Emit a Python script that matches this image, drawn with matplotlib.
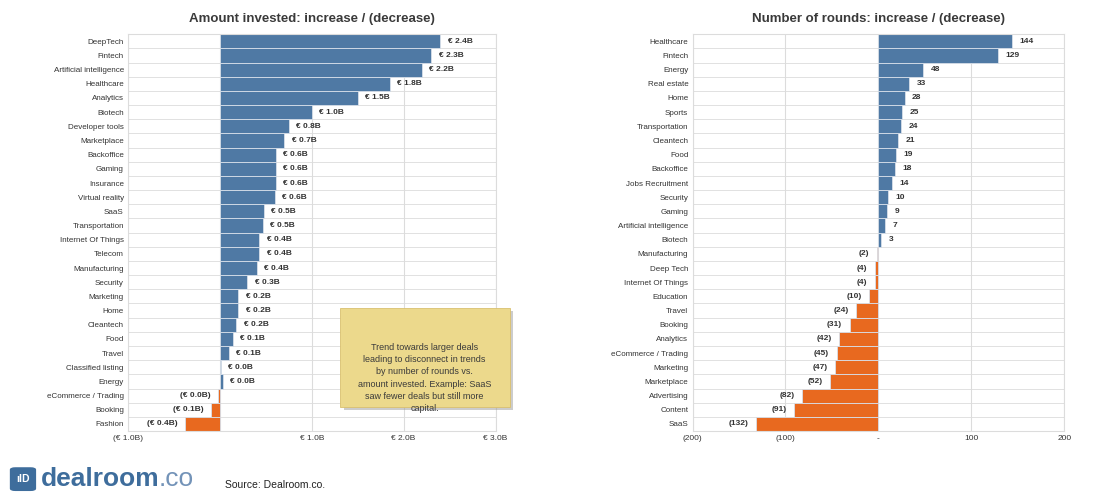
import matplotlib
matplotlib.use("Agg")
import matplotlib.pyplot as plt
from matplotlib.patches import FancyBboxPatch, Rectangle

plt.rcParams['font.family'] = ['Liberation Sans', 'DejaVu Sans']

# Amount invested: change in EUR billions
amount_sectors = ["DeepTech", "Fintech", "Artificial intelligence", "Healthcare", "Analytics",
                  "Biotech", "Developer tools", "Marketplace", "Backoffice", "Gaming",
                  "Insurance", "Virtual reality", "SaaS", "Transportation", "Internet Of Things",
                  "Telecom", "Manufacturing", "Security", "Marketing", "Home", "Cleantech",
                  "Food", "Travel", "Classified listing", "Energy", "eCommerce / Trading",
                  "Booking", "Fashion"]
amount_values = [2.4, 2.3, 2.2, 1.85, 1.5, 1.0, 0.75, 0.7, 0.61, 0.61, 0.61, 0.6,
                 0.48, 0.47, 0.43, 0.43, 0.4, 0.3, 0.2, 0.2, 0.18, 0.14, 0.1,
                 0.01, 0.03, -0.02, -0.1, -0.38]
amount_labels = ["€ 2.4B", "€ 2.3B", "€ 2.2B", "€ 1.8B", "€ 1.5B", "€ 1.0B", "€ 0.8B",
                 "€ 0.7B", "€ 0.6B", "€ 0.6B", "€ 0.6B", "€ 0.6B", "€ 0.5B", "€ 0.5B",
                 "€ 0.4B", "€ 0.4B", "€ 0.4B", "€ 0.3B", "€ 0.2B", "€ 0.2B", "€ 0.2B",
                 "€ 0.1B", "€ 0.1B", "€ 0.0B", "€ 0.0B", "(€ 0.0B)", "(€ 0.1B)", "(€ 0.4B)"]
amount_ticks = [-1, 0, 1, 2, 3]
amount_ticklabels = ["(€ 1.0B)", "", "€ 1.0B", "€ 2.0B", "€ 3.0B"]

# Number of rounds: change in count
rounds_sectors = ["Healthcare", "Fintech", "Energy", "Real estate", "Home", "Sports",
                  "Transportation", "Cleantech", "Food", "Backoffice", "Jobs Recruitment",
                  "Security", "Gaming", "Artificial intelligence", "Biotech", "Manufacturing",
                  "Deep Tech", "Internet Of Things", "Education", "Travel", "Booking",
                  "Analytics", "eCommerce / Trading", "Marketing", "Marketplace",
                  "Advertising", "Content", "SaaS"]
rounds_values = [144, 129, 48, 33, 28, 25, 24, 21, 19, 18, 14, 10, 9, 7, 3,
                 -2, -4, -4, -10, -24, -31, -42, -45, -47, -52, -82, -91, -132]
rounds_ticks = [-200, -100, 0, 100, 200]
rounds_ticklabels = ["(200)", "(100)", "-", "100", "200"]

BLUE = "#4f79a4"
ORANGE = "#e8691f"
GRID = "#dcdcdc"
TXT = "#333333"

fig = plt.figure(figsize=(10.94, 4.96), dpi=100)
ax1 = fig.add_axes([0.117, 0.131, 0.336, 0.800])
ax2 = fig.add_axes([0.633, 0.131, 0.340, 0.800])


def draw_panel(ax, cats, vals, labels, ticks, ticklabels, xlim, pad, title):
    ypos = list(range(len(cats)))
    colors = [BLUE if v >= 0 else ORANGE for v in vals]
    ax.barh(ypos, vals, height=1.0, color=colors, edgecolor="#d8e0ea",
            linewidth=0.6, zorder=2)
    for y, v, lab in zip(ypos, vals, labels):
        if v >= 0:
            ax.text(v + pad, y, lab, ha="left", va="center", fontsize=6,
                    color=TXT, fontweight="bold", zorder=4)
        else:
            ax.text(v - pad, y, lab, ha="right", va="center", fontsize=6,
                    color=TXT, fontweight="bold", zorder=4)
    ax.set_ylim(len(cats) - 0.5, -0.5)
    ax.set_xlim(*xlim)
    ax.set_yticks(ypos)
    ax.set_yticklabels(cats, fontsize=5.8, color=TXT)
    ax.set_xticks(ticks)
    ax.set_xticklabels(ticklabels, fontsize=6, color=TXT)
    # row separators and vertical gridlines
    for b in range(len(cats) + 1):
        ax.axhline(b - 0.5, color=GRID, linewidth=0.6, zorder=1)
    for t in ticks:
        ax.axvline(t, color=GRID, linewidth=0.8, zorder=1)
    ax.tick_params(length=0, pad=3)
    for s in ax.spines.values():
        s.set_color(GRID)
    ax.set_title(title, fontsize=9.5, fontweight="bold", color="#3a3a3a", pad=9)


draw_panel(ax1, amount_sectors, amount_values, amount_labels, amount_ticks,
           amount_ticklabels, (-1, 3), 0.08, "Amount invested: increase / (decrease)")
draw_panel(ax2, rounds_sectors, rounds_values, [str(v) if v >= 0 else f"({-v})" for v in rounds_values],
           rounds_ticks, rounds_ticklabels, (-200, 200), 8,
           "Number of rounds: increase / (decrease)")

# note box
shadow = Rectangle((0.314, 0.173), 0.155, 0.200, transform=fig.transFigure,
                   facecolor="#9a9a9a", alpha=0.5, edgecolor="none", zorder=5)
box = Rectangle((0.311, 0.179), 0.155, 0.200, transform=fig.transFigure,
                facecolor="#ecd98c", edgecolor="#d9c070", linewidth=0.6, zorder=6)
fig.add_artist(shadow)
fig.add_artist(box)
fig.text(0.388, 0.238, "Trend towards larger deals\nleading to disconnect in trends\n"
         "by number of rounds vs.\namount invested. Example: SaaS\n"
         "saw fewer deals but still more\ncapital.",
         ha="center", va="center", fontsize=6.5, color="#3a3a3a",
         linespacing=1.45, zorder=7)

# logo and source
icon = FancyBboxPatch((0.011, 0.012), 0.020, 0.044, boxstyle="round,pad=0.002,rounding_size=0.005",
                      transform=fig.transFigure, facecolor="#3e6d9c", edgecolor="none")
fig.add_artist(icon)
fig.text(0.021, 0.034, "ılD", ha="center", va="center", fontsize=7.5,
         color="white", fontweight="bold")
logo = fig.text(0.037, 0.034, "dealroom", ha="left", va="center", fontsize=19,
                color="#3e6d9c", fontweight="bold")
fig.canvas.draw()
bb = logo.get_window_extent().transformed(fig.transFigure.inverted())
fig.text(bb.x1, 0.034, ".co", ha="left", va="center", fontsize=19,
         color="#7393b8")
fig.text(0.206, 0.022, "Source: Dealroom.co.", ha="left", va="center",
         fontsize=7.5, color="#222222")

fig.savefig("out.png", dpi=100)
